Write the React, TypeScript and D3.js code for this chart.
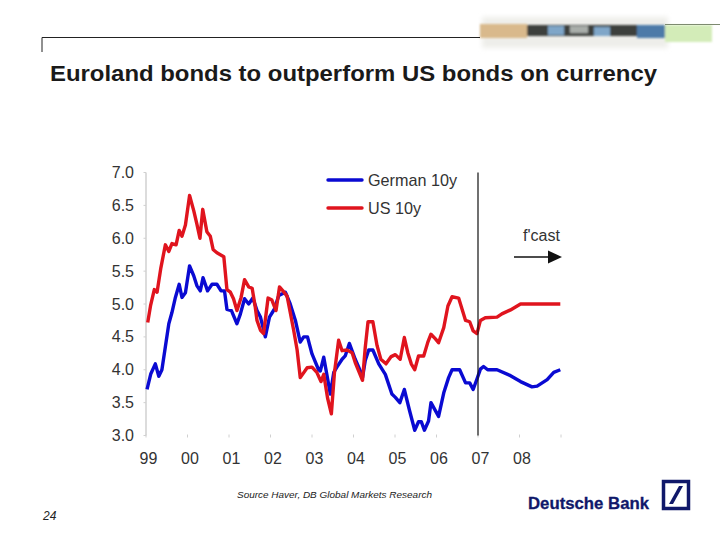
import React from "react";
import * as d3 from "d3";

const yTicks = [3, 3.5, 4, 4.5, 5, 5.5, 6, 6.5, 7];
const yearLabels = ["99", "00", "01", "02", "03", "04", "05", "06", "07", "08"];
const forecastMonth = 96;

// month offset since Jan 1999, then yield in %
const germanMonths = [0.3,1.4,2.7,3.7,4.6,5.6,6.6,7.5,8.5,9.6,10.4,11.4,12.6,13.8,14.7,15.7,16.5,17.8,19.1,20.5,21.7,22.7,23.4,24.7,26.3,27.3,28.5,29.7,30.9,32.1,33.1,34.5,35.7,37.1,38.4,40.3,41.7,43.2,44.6,45.6,46.7,48,49.9,50.4,51.4,53.3,54.3,55.2,56.7,57.6,58.8,60.5,62,62.6,63.4,64.4,65.6,67.3,69.2,71.1,72.1,73.4,74.7,76.2,77.7,78.8,79.6,80.5,81.7,82.4,84.6,86.1,87.5,88.5,90.7,92.4,93.6,94.6,95.7,96.7,97.6,98.8,101.5,105.4,108.3,111.6,113.1,116,117.9,119.8];
const germanValues = [3.7,3.94,4.09,3.9,4.0,4.35,4.7,4.87,5.1,5.3,5.1,5.17,5.58,5.43,5.28,5.2,5.4,5.2,5.3,5.3,5.2,5.2,4.92,4.9,4.7,4.85,5.08,5.0,5.09,4.9,4.8,4.5,4.8,4.92,5.13,5.18,5.0,4.75,4.42,4.5,4.5,4.24,4.0,3.98,4.19,3.63,3.96,4.04,4.16,4.21,4.4,4.16,3.98,3.88,4.14,4.3,4.3,4.09,3.93,3.63,3.58,3.5,3.7,3.38,3.08,3.21,3.21,3.08,3.22,3.5,3.29,3.65,3.88,4.0,4.0,3.8,3.8,3.7,3.86,4.01,4.05,4.0,4.0,3.91,3.82,3.74,3.75,3.85,3.96,4.0];
const usMonths = [0.5,1.3,2.4,3.2,4.3,5.6,6.6,7.5,8.7,9.6,10.4,11.4,12.6,13.8,14.7,15.6,16.4,17.6,18.6,19.4,20.5,22.5,23.4,24.4,25.3,26.3,27.5,28.5,29.7,30.7,31.6,32.1,33.1,34,35.3,36.4,37.6,38.6,39.6,40.8,41.5,42.7,43.7,44.6,46.6,48,49.4,50.6,51.4,52.5,53.6,54.5,55.7,56.7,58.1,59.6,60.5,62.6,63.4,64.2,65.6,66.8,67.9,69.4,70.9,72.1,73.5,74.7,75.7,76.7,77.7,78.8,80.3,81.5,82.4,83.7,84.6,86.1,87.3,88.5,90.4,92.4,93.6,94.6,95.7,96.7,98.1,101.5,102.9,105.4,108.3,119.8];
const usValues = [4.72,4.97,5.22,5.18,5.55,5.9,5.8,5.92,5.9,6.12,6.03,6.2,6.65,6.42,6.22,6.0,6.44,6.1,6.03,5.83,5.78,5.72,5.22,5.18,5.08,4.9,5.1,5.37,5.26,5.24,4.95,4.75,4.6,4.55,5.09,5.06,4.9,5.26,5.2,5.12,4.93,4.6,4.3,3.88,4.03,4.04,3.96,3.82,3.93,3.57,3.33,3.96,4.45,4.29,4.3,4.26,4.11,3.84,4.34,4.73,4.73,4.37,4.16,4.09,4.2,4.23,4.16,4.49,4.26,4.09,4.0,4.21,4.21,4.42,4.54,4.47,4.41,4.64,4.97,5.11,5.09,4.75,4.73,4.59,4.55,4.75,4.79,4.8,4.85,4.91,5.0,5.0];

const bannerSegments = [
  { from: 480, to: 527, top: 24, bottom: 38, color: "#d9b98c" },
  { from: 527, to: 637, top: 25, bottom: 36, color: "#3c403e" },
  { from: 548, to: 564, top: 26, bottom: 35, color: "#7fa6c8" },
  { from: 570, to: 588, top: 26, bottom: 33, color: "#a9aeaa" },
  { from: 594, to: 610, top: 27, bottom: 36, color: "#7fa6c8" },
  { from: 637, to: 665, top: 25, bottom: 38, color: "#4d7aa8" },
  { from: 665, to: 712, top: 25, bottom: 42, color: "#d3ecb8" },
];

const x = d3.scaleLinear().domain([0, 120]).range([146, 561]);
const y = d3.scaleLinear().domain([3, 7]).range([435.5, 172.5]);

const lineOf = (months: number[], values: number[]) =>
  d3.line<number>().x((m) => x(m)).y((_, i) => y(values[i]))(months) as string;

const sans = "'Liberation Sans', Arial, sans-serif";
const textColor = "#333";
const blue = "#0a0ad2";
const red = "#e0141e";
const navy = "#10186a";

export default function App() {
  return (
    <svg width={720} height={540} viewBox="0 0 720 540"
      style={{ position: "absolute", left: 0, top: 0, background: "#fff" }} fontFamily={sans}>
      <defs>
        <filter id="soft" x="-10%" y="-80%" width="120%" height="260%">
          <feGaussianBlur stdDeviation="0.9" />
        </filter>
        <filter id="haze" x="-10%" y="-80%" width="120%" height="260%">
          <feGaussianBlur stdDeviation="2.5" />
        </filter>
      </defs>

      {/* header */}
      <rect x={482} y={17} width={186} height={31} fill="#eeeeea" filter="url(#haze)" />
      <g filter="url(#soft)">
        {bannerSegments.map((s) => (
          <rect key={s.from} x={s.from} y={s.top} width={s.to - s.from} height={s.bottom - s.top} fill={s.color} />
        ))}
      </g>
      <path d="M42 52V37.5H480" fill="none" stroke="#222" strokeWidth={1} />
      <line x1={665} x2={720} y1={24.5} y2={24.5} stroke="#7d8a70" strokeWidth={1} />

      <text x={50} y={81} fontSize={22.6} fontWeight={700} fill="#1a1a1a" textLength={607} lengthAdjust="spacingAndGlyphs">
        Euroland bonds to outperform US bonds on currency
      </text>

      {/* axes */}
      <line x1={x(0)} x2={x(0)} y1={y(7)} y2={y(3)} stroke="#d0d0d0" strokeWidth={1.5} />
      {yTicks.map((t) => (
        <g key={t}>
          <line x1={x(0) - 2.5} x2={x(0)} y1={y(t)} y2={y(t)} stroke="#d0d0d0" />
          <text x={134} y={y(t) + 5.5} fontSize={16} textAnchor="end" fill={textColor}>{t.toFixed(1)}</text>
        </g>
      ))}
      {d3.range(0, 121, 12).map((m) => (
        <line key={m} x1={x(m)} x2={x(m)} y1={y(3) - 1} y2={y(3) + 2} stroke="#d0d0d0" />
      ))}
      {yearLabels.map((l, i) => (
        <text key={l} x={x(i * 12) + 2.5} y={464} fontSize={16} textAnchor="middle" fill={textColor}>{l}</text>
      ))}

      {/* series */}
      <path d={lineOf(germanMonths, germanValues)} fill="none" stroke={blue} strokeWidth={3.4} strokeLinejoin="round" />
      <path d={lineOf(usMonths, usValues)} fill="none" stroke={red} strokeWidth={3.4} strokeLinejoin="round" />

      {/* legend */}
      <line x1={328} x2={362} y1={180} y2={180} stroke={blue} strokeWidth={3.4} strokeLinecap="round" />
      <text x={368} y={186} fontSize={16.2} fill={textColor}>German 10y</text>
      <line x1={328} x2={362} y1={208} y2={208} stroke={red} strokeWidth={3.4} strokeLinecap="round" />
      <text x={368} y={214} fontSize={16.2} fill={textColor}>US 10y</text>

      {/* forecast marker */}
      <line x1={x(forecastMonth)} x2={x(forecastMonth)} y1={y(7)} y2={y(3)} stroke="#111" strokeWidth={1.2} />
      <text x={523} y={241} fontSize={16} fill={textColor}>f'cast</text>
      <line x1={514} x2={552} y1={257} y2={257} stroke="#111" strokeWidth={1.6} />
      <path d="M548 250.5L562 257L548 263.5Z" fill="#111" />

      {/* footer */}
      <text x={237} y={498} fontSize={9.2} fontStyle="italic" fill="#222" textLength={195} lengthAdjust="spacingAndGlyphs">Source Haver, DB Global Markets Research</text>
      <text x={43} y={520} fontSize={12} fontStyle="italic" fill="#222">24</text>

      <text x={528} y={509} fontSize={16.5} fontWeight={700} fill={navy} textLength={121} lengthAdjust="spacingAndGlyphs" stroke={navy} strokeWidth={0.3}>Deutsche Bank</text>
      <rect x={663.5} y={481.5} width={25} height={27} fill="none" stroke={navy} strokeWidth={3.5} />
      <path d="M679 486L683 486L673 504L669 504Z" fill={navy} />
    </svg>
  );
}
